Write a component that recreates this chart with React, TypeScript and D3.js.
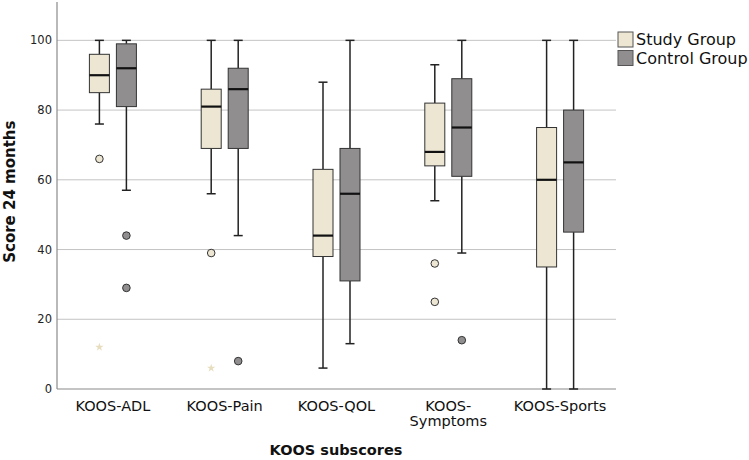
import React from "react";
import * as d3 from "d3";

// KOOS subscores, 24 month follow-up
const categories = ["KOOS-ADL", "KOOS-Pain", "KOOS-QOL", "KOOS-Symptoms", "KOOS-Sports"];
const groups = ["Study Group", "Control Group"];

// [lower whisker, Q1, median, Q3, upper whisker] per category
const studyStats = [
  [76, 85, 90, 96, 100],
  [56, 69, 81, 86, 100],
  [6, 38, 44, 63, 88],
  [54, 64, 68, 82, 93],
  [0, 35, 60, 75, 100],
];
const controlStats = [
  [57, 81, 92, 99, 100],
  [44, 69, 86, 92, 100],
  [13, 31, 56, 69, 100],
  [39, 61, 75, 89, 100],
  [0, 45, 65, 80, 100],
];

// outliers (circles) and extremes (stars)
const studyOutliers = [[66], [39], [], [36, 25], []];
const studyExtremes = [[12], [6], [], [], []];
const controlOutliers = [[44, 29], [8], [], [14], []];
const controlExtremes = [[], [], [], [], []];

const yTicks = [0, 20, 40, 60, 80, 100];

const fills = ["#ECE6D3", "#918E90"];

export default function App() {
  const left = 57, right = 616, top = 2, bottom = 389;
  const x = d3.scaleBand().domain(categories).range([left, right]);
  const sub = d3.scalePoint().domain(groups).range([-13.5, 13.5]);
  const y = d3.scaleLinear().domain([0, 111]).range([bottom, top]);
  const boxW = 20;
  const capW = 9;
  const star = d3.symbol().type(d3.symbolStar).size(22)() as string;

  const series = [
    { stats: studyStats, outliers: studyOutliers, extremes: studyExtremes },
    { stats: controlStats, outliers: controlOutliers, extremes: controlExtremes },
  ];

  return (
    <svg
      width={749}
      height={460}
      style={{ position: "absolute", left: 0, top: 0, background: "#fff" }}
      fontFamily="DejaVu Sans, sans-serif"
    >
      {/* grid */}
      {yTicks.filter((t) => t > 0).map((t) => (
        <line key={t} x1={left} x2={right} y1={y(t)} y2={y(t)} stroke="#c4c4c4" strokeWidth={1} />
      ))}
      {/* axes */}
      <line x1={left} x2={left} y1={top} y2={bottom} stroke="#8a8a8a" strokeWidth={1.2} />
      <line x1={left} x2={right} y1={bottom} y2={bottom} stroke="#8a8a8a" strokeWidth={1.2} />
      {yTicks.map((t) => (
        <text key={t} x={left - 5} y={y(t) + 4} textAnchor="end" fontSize={11.5} fill="#222">
          {t}
        </text>
      ))}

      {/* boxes */}
      {categories.map((c, i) => {
        const cx0 = (x(c) as number) + x.bandwidth() / 2;
        return series.map((s, g) => {
          const [lo, q1, med, q3, hi] = s.stats[i];
          const cx = cx0 + (sub(groups[g]) as number);
          return (
            <g key={c + g}>
              <line x1={cx} x2={cx} y1={y(hi)} y2={y(q3)} stroke="#222" strokeWidth={1.5} />
              <line x1={cx} x2={cx} y1={y(q1)} y2={y(lo)} stroke="#222" strokeWidth={1.5} />
              <line x1={cx - capW / 2} x2={cx + capW / 2} y1={y(hi)} y2={y(hi)} stroke="#222" strokeWidth={1.5} />
              <line x1={cx - capW / 2} x2={cx + capW / 2} y1={y(lo)} y2={y(lo)} stroke="#222" strokeWidth={1.5} />
              <rect
                x={cx - boxW / 2}
                y={y(q3)}
                width={boxW}
                height={y(q1) - y(q3)}
                fill={fills[g]}
                stroke="#333"
                strokeWidth={1}
              />
              <line x1={cx - boxW / 2} x2={cx + boxW / 2} y1={y(med)} y2={y(med)} stroke="#111" strokeWidth={2.2} />
              {s.outliers[i].map((v, k) => (
                <circle key={"o" + k} cx={cx} cy={y(v)} r={3.8} fill={fills[g]} stroke="#333" strokeWidth={1} />
              ))}
              {s.extremes[i].map((v, k) => (
                <path key={"e" + k} d={star} transform={`translate(${cx},${y(v)})`} fill="#E6DEBF" />
              ))}
            </g>
          );
        });
      })}

      {/* category labels */}
      {categories.map((c) => {
        const cx = (x(c) as number) + x.bandwidth() / 2;
        const parts = c === "KOOS-Symptoms" ? ["KOOS-", "Symptoms"] : [c];
        return (
          <text key={c} x={cx} y={411} textAnchor="middle" fontSize={14.5} fill="#111">
            {parts.map((p, k) => (
              <tspan key={k} x={cx} dy={k === 0 ? 0 : 15}>
                {p}
              </tspan>
            ))}
          </text>
        );
      })}

      {/* axis titles */}
      <text x={336} y={455} textAnchor="middle" fontSize={14.5} fontWeight="bold" fill="#111">
        KOOS subscores
      </text>
      <text
        transform={`translate(15,${(y(0) + y(100)) / 2 - 23}) rotate(-90)`}
        textAnchor="middle"
        fontSize={15}
        fontWeight="bold"
        fill="#111"
      >
        Score 24 months
      </text>

      {/* legend */}
      {groups.map((gname, g) => (
        <g key={gname} transform={`translate(618,${32 + g * 18.5})`}>
          <rect x={0} y={0} width={15} height={15} fill={fills[g]} stroke="#555" strokeWidth={1} />
          <text x={18} y={13} fontSize={16} fill="#111">
            {gname}
          </text>
        </g>
      ))}
    </svg>
  );
}
